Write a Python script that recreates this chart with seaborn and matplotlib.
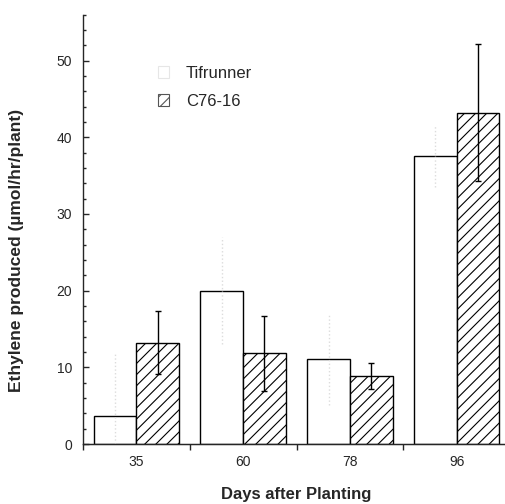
import matplotlib
matplotlib.use("Agg")
import matplotlib.pyplot as plt
import seaborn as sns
import pandas as pd
from matplotlib.patches import Patch

# values
days = ["35", "60", "78", "96"]
tifrunner = [3.7, 20.0, 11.1, 37.5]
tifrunner_err = [8.0, 7.0, 6.0, 4.0]
c76 = [13.2, 11.8, 8.9, 43.2]
c76_err = [4.1, 4.9, 1.7, 8.9]
genotypes = ["Tifrunner", "C76-16"]

df = pd.DataFrame({
    "day": days * 2,
    "ethylene": tifrunner + c76,
    "genotype": [genotypes[0]] * 4 + [genotypes[1]] * 4,
})

sns.set_style("ticks")
plt.rcParams["font.family"] = ["Liberation Sans", "DejaVu Sans"]
plt.rcParams["hatch.linewidth"] = 0.8

fig = plt.figure(figsize=(5.05, 5.04), dpi=100)
ax = fig.add_axes([83 / 505, 60 / 504, 427 / 505, 429.5 / 504])

sns.barplot(data=df, x="day", y="ethylene", hue="genotype", order=days,
            hue_order=genotypes, width=0.8, palette=["white", "white"],
            edgecolor="black", linewidth=1.0, errorbar=None, legend=False, ax=ax)

# hatch the C76-16 bars
for bar in ax.containers[1]:
    bar.set_hatch("///")

# error bars at the bar centres
for cont, vals, errs, col, ls in [(ax.containers[0], tifrunner, tifrunner_err, "#dcdcdc", ":"),
                                  (ax.containers[1], c76, c76_err, "black", "-")]:
    xs = [b.get_x() + b.get_width() / 2 for b in cont]
    eb = ax.errorbar(xs, vals, yerr=errs, fmt="none", ecolor=col, elinewidth=1.0,
                     capsize=2 if col == "black" else 0, capthick=1.0)
    eb[2][0].set_linestyle(ls)

ax.set_xlim(-0.5, 3.5)
ax.set_ylim(0, 56)
sns.despine(ax=ax)

# y ticks
ax.set_yticks([0, 10, 20, 30, 40, 50])
ax.set_yticks(range(0, 57, 2), minor=True)
ax.tick_params(axis="y", which="major", direction="in", length=4, width=1, pad=8, labelsize=10)
ax.tick_params(axis="y", which="minor", direction="in", length=2.5, width=1)

# x ticks: labels at group centres, outward ticks between groups
ax.set_xticks(range(len(days)))
ax.set_xticklabels(days)
ax.set_xticks([-0.5, 0.5, 1.5, 2.5, 3.5], minor=True)
ax.tick_params(axis="x", which="major", length=0, pad=8, labelsize=10)
ax.tick_params(axis="x", which="minor", direction="out", length=4, width=1)

# small inward ticks within each group
sec = ax.secondary_xaxis(0.0)
inner = [g + d for g in range(len(days)) for d in (-0.3, -0.1, 0.1, 0.3)]
sec.set_xticks(inner)
sec.set_xticklabels([])
sec.tick_params(axis="x", direction="in", length=2.5, width=1)

for sp in ax.spines.values():
    sp.set_linewidth(1.0)

ax.set_xlabel("Days after Planting", fontsize=12, fontweight="bold", labelpad=13)
ax.set_ylabel("Ethylene produced (\u00b5mol/hr/plant)", fontsize=12.5, fontweight="bold")
ax.yaxis.set_label_coords(-0.138, 0.45)

handles = [Patch(facecolor="white", edgecolor="#e6e6e6", linewidth=0.8),
           Patch(facecolor="white", edgecolor="#555555", hatch="///", linewidth=0.8)]
ax.legend(handles, genotypes, loc="upper left", bbox_to_anchor=(0.14, 0.915), frameon=False,
          fontsize=12, handlelength=0.7, handleheight=0.7, handletextpad=1.0, labelspacing=0.75)

fig.savefig("out.png", dpi=100)
